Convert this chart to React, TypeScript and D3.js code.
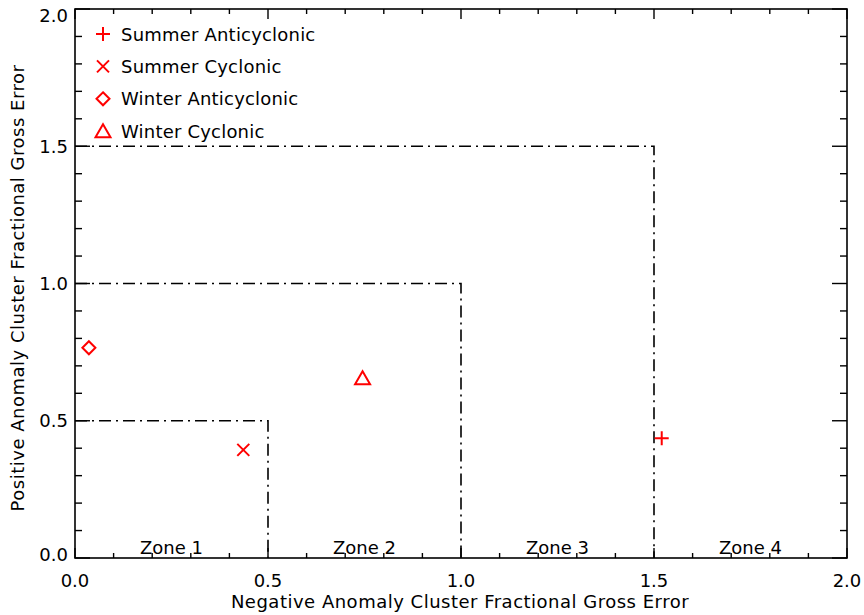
import React from "react";
import * as d3 from "d3";

const seriesNames = ["Summer Anticyclonic", "Summer Cyclonic", "Winter Anticyclonic", "Winter Cyclonic"];
const seriesSymbols = ["plus", "cross", "diamond", "triangle"];
const seriesX = [1.52, 0.436, 0.036, 0.745];
const seriesY = [0.436, 0.394, 0.766, 0.655];
const zoneBounds = [0.5, 1.0, 1.5];
const zoneLabels = ["Zone 1", "Zone 2", "Zone 3", "Zone 4"];
const zoneCenters = [0.25, 0.75, 1.25, 1.75];
const majorTicks = [0, 0.5, 1.0, 1.5, 2.0];
const minorTicks = d3.range(0, 21).map((i) => i / 10);

const W = 864, H = 615;
const M = { left: 75, right: 17, top: 9, bottom: 57 };
const FONT = "'DejaVu Sans', sans-serif";
const FS = 18;
const RED = "#ff0000";

function Symbol({ kind, cx, cy }: { kind: string; cx: number; cy: number }) {
  const s = 7;
  const common = { stroke: RED, strokeWidth: 2, fill: "none" };
  if (kind === "plus")
    return <path d={`M${cx - s},${cy}H${cx + s}M${cx},${cy - s}V${cy + s}`} {...common} />;
  if (kind === "cross") {
    const c = 6;
    return <path d={`M${cx - c},${cy - c}L${cx + c},${cy + c}M${cx - c},${cy + c}L${cx + c},${cy - c}`} {...common} />;
  }
  if (kind === "diamond") {
    const d = 6.5;
    return <path d={`M${cx},${cy - d}L${cx + d},${cy}L${cx},${cy + d}L${cx - d},${cy}Z`} {...common} />;
  }
  return <path d={`M${cx},${cy - 7}L${cx + 7.5},${cy + 6}L${cx - 7.5},${cy + 6}Z`} {...common} />;
}

export default function App() {
  const x = d3.scaleLinear().domain([0, 2]).range([M.left, W - M.right]);
  const y = d3.scaleLinear().domain([0, 2]).range([H - M.bottom, M.top]);
  const x0 = x(0), x1 = x(2), y0 = y(0), y1 = y(2);
  const dash = "12,5,2,5";
  return (
    <svg width={W} height={H} style={{ position: "absolute", left: 0, top: 0, background: "#fff" }}>
      <rect x={0} y={0} width={W} height={H} fill="#fff" />
      {zoneBounds.map((b, i) => (
        <path key={i} d={`M${x(0)},${y(b)}H${x(b)}V${y(0)}`} fill="none" stroke="#000" strokeWidth={1.6} strokeDasharray={dash} />
      ))}
      {minorTicks.map((t, i) => {
        const major = majorTicks.some((m) => Math.abs(m - t) < 1e-6);
        const lx = major ? 10 : 5;
        const ly = major ? 15 : 7;
        return (
          <g key={i} stroke="#000" strokeWidth={1.4}>
            <line x1={x(t)} x2={x(t)} y1={y0} y2={y0 - lx} />
            <line x1={x(t)} x2={x(t)} y1={y1} y2={y1 + lx} />
            <line y1={y(t)} y2={y(t)} x1={x0} x2={x0 + ly} />
            <line y1={y(t)} y2={y(t)} x1={x1} x2={x1 - ly} />
          </g>
        );
      })}
      <rect x={x0} y={y1} width={x1 - x0} height={y0 - y1} fill="none" stroke="#000" strokeWidth={1.6} />
      {majorTicks.map((t, i) => (
        <text key={"x" + i} x={x(t)} y={587} textAnchor="middle" fontFamily={FONT} fontSize={FS} fill="#000">
          {t.toFixed(1)}
        </text>
      ))}
      {majorTicks.map((t, i) => (
        <text key={"y" + i} x={68} y={Math.min(Math.max(y(t), 15), 554) + 6.5} textAnchor="end" fontFamily={FONT} fontSize={FS} fill="#000">
          {t.toFixed(1)}
        </text>
      ))}
      {zoneLabels.map((z, i) => (
        <text key={z} x={x(zoneCenters[i])} y={y0 - 4} textAnchor="middle" fontFamily={FONT} fontSize={FS} fill="#000">
          {z}
        </text>
      ))}
      <text x={460} y={608} textAnchor="middle" fontFamily={FONT} fontSize={FS} fill="#000" letterSpacing={0.5}>
        Negative Anomaly Cluster Fractional Gross Error
      </text>
      <text transform={`translate(24,288) rotate(-90)`} textAnchor="middle" fontFamily={FONT} fontSize={FS} fill="#000" letterSpacing={0.5}>
        Positive Anomaly Cluster Fractional Gross Error
      </text>
      {seriesNames.map((n, i) => (
        <Symbol key={n} kind={seriesSymbols[i]} cx={x(seriesX[i])} cy={y(seriesY[i])} />
      ))}
      {seriesNames.map((n, i) => (
        <g key={"l" + n}>
          <Symbol kind={seriesSymbols[i]} cx={103} cy={34 + i * 32.4} />
          <text x={121} y={34 + i * 32.4 + 6.5} fontFamily={FONT} fontSize={FS} fill="#000" letterSpacing={0.2}>
            {n}
          </text>
        </g>
      ))}
    </svg>
  );
}
